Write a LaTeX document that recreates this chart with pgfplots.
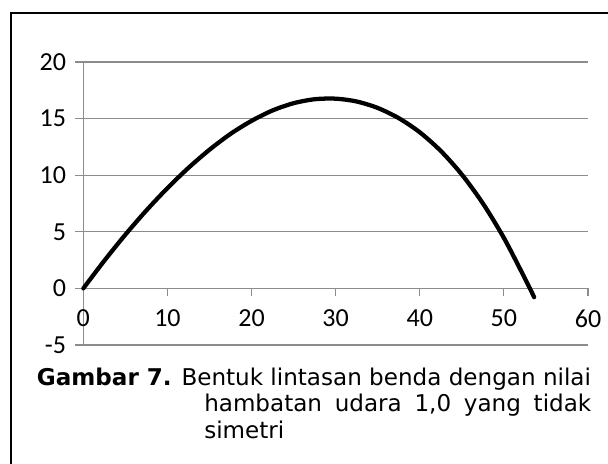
\documentclass[border=0pt]{standalone}
\usepackage{fontspec}
\setmainfont{DejaVu Sans}
\newfontfamily\carlito{Carlito}
\usepackage{pgfplots}
\pgfplotsset{compat=1.18}
\definecolor{gridc}{RGB}{140,140,140}
\begin{document}
\begin{tikzpicture}
\useasboundingbox (0,0) rectangle (456pt,348pt);
\draw[black, line width=1.4pt] (8.25pt,-2pt) -- (8.25pt,338.25pt) -- (458pt,338.25pt);
\begin{axis}[
  at={(62.5pt,89.25pt)}, anchor=south west,
  scale only axis, width=378.5pt, height=212.25pt,
  xmin=0, xmax=60, ymin=-5, ymax=20,
  axis x line*=middle, axis y line*=left,
  hide obscured x ticks=false,
  xtick={0,10,20,30,40,50,60},
  ytick={-5,0,5,10,15,20},
  ymajorgrids,
  major grid style={gridc, line width=0.8pt},
  axis line style={gridc, line width=0.8pt},
  major tick length=6pt,
  ytick align=outside,
  xtick align=center,
  x tick style={gridc, line width=0.8pt, yshift=-3pt},
  y tick style={gridc, line width=0.8pt},
  tick label style={font=\carlito\fontsize{19.5}{21}\selectfont, text=black},
  /pgf/number format/assume math mode=true,
  xticklabel style={anchor=north, yshift=-9.5pt},
  yticklabel style={anchor=east, xshift=-3.5pt},
  clip=false,
]
\addplot[black, line width=3.2pt, smooth, line cap=round] coordinates {
(0,0) (2.5,2.45) (5,4.75) (7.5,6.89) (10,8.86) (12.5,10.65) (15,12.25)
(17.5,13.65) (20,14.80) (22.5,15.72) (25,16.36) (27.5,16.71) (30,16.76)
(32.5,16.51) (35,15.94) (37.5,15.04) (40,13.79) (42.5,12.14) (45,10.06)
(47.5,7.51) (50,4.46) (52.5,0.88) (53.6,-0.78)
};
\end{axis}
\node[anchor=base west, inner sep=0pt] at (27.5pt,58.7pt)
  {\fontsize{17.3}{19.7}\selectfont\makebox[415.5pt][s]{\textbf{Gambar 7.} Bentuk lintasan benda dengan nilai}};
\node[anchor=base west, inner sep=0pt] at (153pt,39.2pt)
  {\fontsize{17.3}{19.7}\selectfont\makebox[290.25pt][s]{hambatan udara 1,0 yang tidak}};
\node[anchor=base west, inner sep=0pt] at (153pt,19.3pt)
  {\fontsize{17.3}{19.7}\selectfont simetri};
\end{tikzpicture}
\end{document}
